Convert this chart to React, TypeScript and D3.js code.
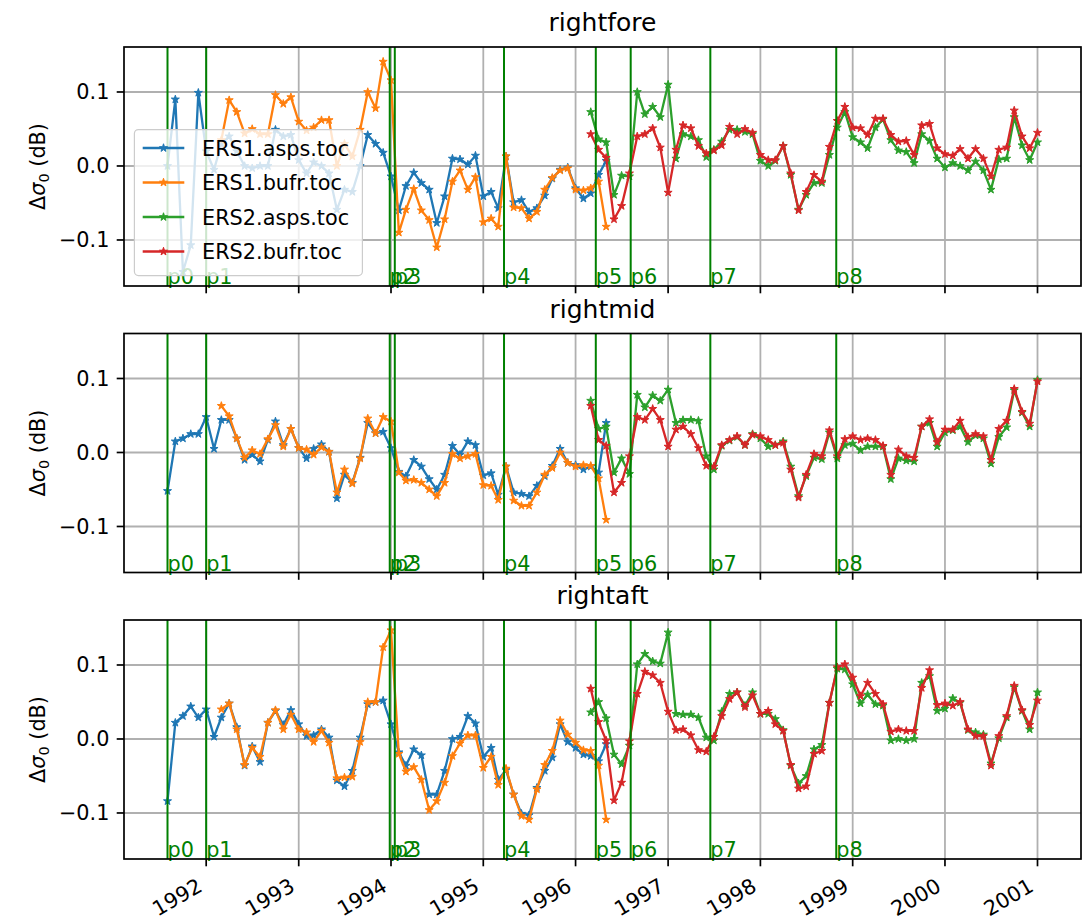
import React from 'react';
import * as d3 from 'd3';

const PANEL_TITLES = ['rightfore', 'rightmid', 'rightaft'];
const SERIES_NAMES = ['ERS1.asps.toc', 'ERS1.bufr.toc', 'ERS2.asps.toc', 'ERS2.bufr.toc'];
const SERIES_COLORS = ['#1f77b4', '#ff7f0e', '#2ca02c', '#d62728'];
const SERIES_START = ['1991-08-01', '1992-03-01', '1996-03-01', '1996-03-01'];
const YEAR_TICKS = [1992, 1993, 1994, 1995, 1996, 1997, 1998, 1999, 2000, 2001];
const Y_TICKS = [-0.1, 0.0, 0.1];
const EVENT_NAMES = ['p0', 'p1', 'p2', 'p3', 'p4', 'p5', 'p6', 'p7', 'p8'];
const EVENT_DATES = ['1991-08-01', '1992-01-01', '1993-12-27', '1994-01-16', '1995-03-24', '1996-03-21', '1996-08-06', '1997-06-17', '1998-10-28'];
const X_FIRST = '1991-08-01';
const X_LAST = '2001-01-01';

// rightfore
const foreErs1Asps = [0.0, 0.090, -0.143, -0.107, 0.099, 0.02, -0.005, 0.03, 0.04, 0.02, 0.0, -0.003, 0.0, 0.0, 0.049, 0.040, 0.042, 0.008, -0.01, 0.005, 0.0, -0.01, -0.059, -0.032, -0.035, 0.0, 0.042, 0.030, 0.018, -0.014, -0.060, -0.027, -0.009, -0.023, -0.032, -0.077, -0.041, 0.010, 0.009, 0.002, 0.014, -0.041, -0.035, -0.057, 0.013, -0.049, -0.046, -0.062, -0.057, -0.040, -0.017, -0.005, -0.002, -0.030, -0.044, -0.037, -0.012, 0.007];
const foreErs1Bufr = [0.035, 0.089, 0.073, 0.044, 0.050, 0.043, 0.043, 0.096, 0.084, 0.093, 0.060, 0.048, 0.052, 0.062, 0.062, 0.0, 0.030, 0.013, 0.049, 0.100, 0.078, 0.141, 0.116, -0.090, -0.059, -0.031, -0.060, -0.073, -0.110, -0.072, -0.021, -0.006, -0.032, -0.015, -0.076, -0.071, -0.082, 0.013, -0.056, -0.057, -0.071, -0.062, -0.032, -0.016, -0.006, -0.003, -0.032, -0.033, -0.030, -0.021, -0.082];
const foreErs2Asps = [0.073, 0.036, 0.032, -0.039, -0.013, -0.014, 0.100, 0.070, 0.080, 0.066, 0.110, 0.010, 0.043, 0.040, 0.035, 0.012, 0.022, 0.033, 0.049, 0.049, 0.046, 0.043, 0.007, 0.0, 0.007, 0.027, -0.012, -0.059, -0.039, -0.023, -0.023, 0.015, 0.052, 0.073, 0.039, 0.032, 0.024, 0.052, 0.063, 0.035, 0.021, 0.019, 0.004, 0.043, 0.034, 0.010, -0.002, 0.004, 0.0, -0.006, 0.006, -0.006, -0.032, 0.009, 0.010, 0.066, 0.028, 0.008, 0.032];
const foreErs2Bufr = [0.043, 0.022, 0.011, -0.072, -0.054, -0.010, 0.040, 0.043, 0.051, 0.025, -0.036, 0.022, 0.055, 0.051, 0.027, 0.017, 0.021, 0.028, 0.053, 0.043, 0.050, 0.045, 0.015, 0.008, 0.008, 0.027, -0.010, -0.060, -0.035, -0.012, -0.021, 0.026, 0.061, 0.080, 0.052, 0.051, 0.042, 0.064, 0.064, 0.042, 0.033, 0.034, 0.015, 0.055, 0.057, 0.024, 0.016, 0.014, 0.023, 0.010, 0.023, 0.010, -0.014, 0.022, 0.025, 0.075, 0.040, 0.024, 0.045];

// rightmid
const midErs1Asps = [-0.052, 0.015, 0.019, 0.025, 0.025, 0.048, 0.005, 0.044, 0.044, 0.019, -0.010, -0.003, -0.012, 0.017, 0.042, 0.010, 0.032, 0.006, -0.008, 0.005, 0.011, 0.001, -0.062, -0.030, -0.041, -0.007, 0.040, 0.026, 0.028, 0.006, -0.026, -0.032, -0.010, -0.019, -0.036, -0.050, -0.030, 0.009, -0.003, 0.015, 0.010, -0.031, -0.028, -0.057, -0.019, -0.054, -0.056, -0.059, -0.045, -0.032, -0.018, 0.005, -0.014, -0.017, -0.023, -0.019, -0.027, 0.040];
const midErs1Bufr = [0.063, 0.049, 0.019, -0.007, 0.003, -0.002, 0.018, 0.037, 0.008, 0.032, 0.006, 0.004, -0.003, 0.007, 0.001, -0.054, -0.023, -0.042, -0.008, 0.046, 0.026, 0.048, 0.042, -0.027, -0.038, -0.037, -0.041, -0.050, -0.059, -0.041, -0.002, -0.008, -0.005, -0.002, -0.044, -0.045, -0.064, -0.019, -0.065, -0.072, -0.072, -0.054, -0.030, -0.021, 0.0, -0.014, -0.019, -0.017, -0.018, -0.035, -0.091];
const midErs2Asps = [0.070, 0.032, 0.035, -0.027, -0.008, -0.029, 0.078, 0.061, 0.077, 0.070, 0.085, 0.040, 0.044, 0.044, 0.043, -0.005, -0.023, 0.009, 0.016, 0.021, 0.010, 0.025, 0.019, 0.008, 0.010, 0.015, -0.019, -0.059, -0.032, -0.007, -0.009, 0.027, -0.008, 0.010, 0.012, 0.003, 0.008, 0.008, 0.008, -0.036, -0.008, -0.011, -0.012, 0.035, 0.040, 0.008, 0.027, 0.030, 0.035, 0.014, 0.023, 0.019, -0.015, 0.021, 0.034, 0.084, 0.054, 0.035, 0.098];
const midErs2Bufr = [0.063, 0.017, 0.009, -0.054, -0.041, -0.005, 0.048, 0.044, 0.059, 0.044, 0.008, 0.031, 0.035, 0.025, 0.006, -0.018, -0.019, 0.010, 0.017, 0.022, 0.010, 0.024, 0.022, 0.017, 0.010, 0.013, -0.023, -0.061, -0.030, -0.002, -0.005, 0.030, -0.005, 0.018, 0.022, 0.017, 0.019, 0.017, 0.009, -0.030, 0.004, -0.005, -0.007, 0.035, 0.045, 0.014, 0.031, 0.031, 0.043, 0.021, 0.025, 0.022, -0.010, 0.032, 0.043, 0.086, 0.055, 0.039, 0.096];

// rightaft
const aftErs1Asps = [-0.084, 0.022, 0.031, 0.044, 0.029, 0.040, 0.003, 0.029, 0.048, 0.016, -0.036, -0.010, -0.031, 0.022, 0.038, 0.019, 0.039, 0.020, 0.004, 0.005, 0.013, 0.002, -0.056, -0.064, -0.043, 0.002, 0.047, 0.050, 0.052, 0.020, -0.018, -0.036, -0.014, -0.022, -0.075, -0.075, -0.043, 0.0, 0.003, 0.031, 0.021, -0.024, -0.012, -0.055, -0.042, -0.075, -0.101, -0.103, -0.066, -0.043, -0.025, 0.020, -0.004, -0.012, -0.021, -0.023, -0.030, -0.007];
const aftErs1Bufr = [0.040, 0.048, 0.013, -0.035, -0.012, -0.024, 0.022, 0.039, 0.013, 0.033, 0.013, 0.009, -0.004, 0.011, -0.005, -0.053, -0.052, -0.051, -0.004, 0.050, 0.050, 0.124, 0.147, -0.020, -0.044, -0.038, -0.055, -0.096, -0.084, -0.059, -0.023, -0.006, 0.005, 0.005, -0.039, -0.024, -0.062, -0.040, -0.075, -0.104, -0.109, -0.068, -0.035, -0.016, 0.025, 0.006, -0.005, -0.015, -0.016, -0.036, -0.109];
const aftErs2Asps = [0.036, 0.050, 0.028, -0.021, -0.034, -0.009, 0.101, 0.115, 0.105, 0.102, 0.144, 0.034, 0.033, 0.033, 0.029, 0.002, -0.002, 0.037, 0.061, 0.063, 0.045, 0.063, 0.034, 0.034, 0.027, 0.012, -0.036, -0.060, -0.050, -0.014, -0.008, 0.049, 0.095, 0.094, 0.074, 0.048, 0.060, 0.047, 0.045, -0.002, 0.0, -0.002, 0.0, 0.076, 0.085, 0.038, 0.041, 0.055, 0.049, 0.012, 0.009, 0.006, -0.033, 0.001, 0.029, 0.070, 0.038, 0.013, 0.063];
const aftErs2Bufr = [0.068, 0.023, -0.002, -0.083, -0.059, -0.003, 0.061, 0.091, 0.086, 0.076, 0.037, 0.012, 0.013, 0.005, -0.015, -0.017, 0.003, 0.031, 0.054, 0.063, 0.043, 0.059, 0.034, 0.038, 0.020, 0.011, -0.035, -0.067, -0.064, -0.020, -0.016, 0.049, 0.097, 0.101, 0.083, 0.058, 0.076, 0.061, 0.047, 0.010, 0.013, 0.011, 0.011, 0.069, 0.093, 0.046, 0.048, 0.045, 0.050, 0.013, 0.004, 0.004, -0.036, 0.004, 0.031, 0.072, 0.039, 0.019, 0.052];

const PANEL_DATA = [
  [foreErs1Asps, foreErs1Bufr, foreErs2Asps, foreErs2Bufr],
  [midErs1Asps, midErs1Bufr, midErs2Asps, midErs2Bufr],
  [aftErs1Asps, aftErs1Bufr, aftErs2Asps, aftErs2Bufr],
];

const W = 1088;
const H = 923;
const AX_LEFT = 124;
const AX_RIGHT = 1081;
const AX_H = 239;
const PANEL_TOPS = [47, 333.5, 620];
const FONT = "'DejaVu Sans', sans-serif";
const FS = 20.8;
const TICK = 7.3;
const EVENT_GREEN = '#008000';

export default function App() {
  const parse = d3.utcParse('%Y-%m-%d');
  const first = parse(X_FIRST)!;
  const last = parse(X_LAST)!;
  const span = +last - +first;
  const x = d3
    .scaleUtc()
    .domain([new Date(+first - 0.05 * span), new Date(+last + 0.05 * span)])
    .range([AX_LEFT, AX_RIGHT]);

  const starPath = d3.symbol(d3.symbolStar, 20)() as string;
  const legendStar = d3.symbol(d3.symbolStar, 20)() as string;

  const seriesPoints = (vals: number[], start: string) => {
    const d0 = parse(start)!;
    return vals.map((v, i) => [d3.utcMonth.offset(d0, i), v] as [Date, number]);
  };

  const yearDates = YEAR_TICKS.map((yr) => new Date(Date.UTC(yr, 0, 1)));
  const eventDates = EVENT_DATES.map((s) => parse(s)!);

  return (
    <svg
      width={W}
      height={H}
      viewBox={`0 0 ${W} ${H}`}
      style={{ position: 'absolute', left: 0, top: 0, background: '#fff' }}
      fontFamily={FONT}
    >
      <rect x={0} y={0} width={W} height={H} fill="#fff" />
      {PANEL_TITLES.map((title, pi) => {
        const top = PANEL_TOPS[pi];
        const bottom = top + AX_H;
        const y = d3.scaleLinear().domain([-0.1622, 0.1608]).range([bottom, top]);
        const line = d3
          .line<[Date, number]>()
          .x((d) => x(d[0]))
          .y((d) => y(d[1]));
        const clipId = `clip${pi}`;
        return (
          <g key={title}>
            <defs>
              <clipPath id={clipId}>
                <rect x={AX_LEFT} y={top} width={AX_RIGHT - AX_LEFT} height={AX_H} />
              </clipPath>
            </defs>
            {yearDates.map((d, i) => (
              <line key={'gx' + i} x1={x(d)} x2={x(d)} y1={top} y2={bottom} stroke="#b0b0b0" strokeWidth={1.8} />
            ))}
            {Y_TICKS.map((t, i) => (
              <line key={'gy' + i} x1={AX_LEFT} x2={AX_RIGHT} y1={y(t)} y2={y(t)} stroke="#b0b0b0" strokeWidth={1.8} />
            ))}
            <g clipPath={`url(#${clipId})`}>
              {PANEL_DATA[pi].map((vals, si) => {
                const pts = seriesPoints(vals, SERIES_START[si]);
                return (
                  <g key={'s' + si}>
                    <path d={line(pts) as string} fill="none" stroke={SERIES_COLORS[si]} strokeWidth={2.3} strokeLinejoin="round" />
                    {pts.map((p, k) => (
                      <path
                        key={k}
                        d={starPath}
                        transform={`translate(${x(p[0])},${y(p[1])})`}
                        fill={SERIES_COLORS[si]}
                        stroke={SERIES_COLORS[si]}
                        strokeWidth={1}
                      />
                    ))}
                  </g>
                );
              })}
              {eventDates.map((d, i) => (
                <line key={'ev' + i} x1={x(d)} x2={x(d)} y1={top} y2={bottom} stroke={EVENT_GREEN} strokeWidth={2} />
              ))}
            </g>
            {eventDates.map((d, i) => (
              <text key={'evt' + i} x={x(d)} y={y(-0.16)} fill={EVENT_GREEN} fontSize={FS}>
                {EVENT_NAMES[i]}
              </text>
            ))}
            <rect x={AX_LEFT} y={top} width={AX_RIGHT - AX_LEFT} height={AX_H} fill="none" stroke="#000" strokeWidth={1.7} />
            {Y_TICKS.map((t, i) => (
              <g key={'yt' + i}>
                <line x1={AX_LEFT - TICK} x2={AX_LEFT} y1={y(t)} y2={y(t)} stroke="#000" strokeWidth={1.7} />
                <text x={AX_LEFT - TICK - 7.3} y={y(t)} dy="0.36em" textAnchor="end" fontSize={FS} fill="#000">
                  {d3.format('.1f')(t).replace('-', '\u2212')}
                </text>
              </g>
            ))}
            {yearDates.map((d, i) => (
              <line key={'xt' + i} x1={x(d)} x2={x(d)} y1={bottom} y2={bottom + TICK} stroke="#000" strokeWidth={1.7} />
            ))}
            {pi === 2 &&
              yearDates.map((d, i) => (
                <text
                  key={'xl' + i}
                  transform={`translate(${x(d)},${bottom + 35.5}) rotate(-30)`}
                  x={0}
                  y={-5}
                  textAnchor="end"
                  fontSize={FS}
                  fill="#000"
                >
                  {YEAR_TICKS[i]}
                </text>
              ))}
            <text x={(AX_LEFT + AX_RIGHT) / 2} y={top - 16} textAnchor="middle" fontSize={25} fill="#000">
              {title}
            </text>
            <text transform={`translate(45,${top + AX_H / 2}) rotate(-90)`} textAnchor="middle" fontSize={FS} fill="#000">
              {'\u0394'}
              <tspan fontStyle="italic">{'\u03c3'}</tspan>
              <tspan fontSize={14.5} dy={4}>0</tspan>
              <tspan dy={-4}>{' (dB)'}</tspan>
            </text>
            {pi === 0 && (
              <g>
                <rect x={134.4} y={129.6} width={228} height={146} rx={4} fill="#fff" fillOpacity={0.8} stroke="#cccccc" strokeWidth={1.2} />
                {SERIES_NAMES.map((name, li) => {
                  const cy = 148 + li * 34.5;
                  return (
                    <g key={name}>
                      <line x1={142.7} x2={184.3} y1={cy} y2={cy} stroke={SERIES_COLORS[li]} strokeWidth={2.3} />
                      <path d={legendStar} transform={`translate(163.5,${cy})`} fill={SERIES_COLORS[li]} stroke={SERIES_COLORS[li]} strokeWidth={1} />
                      <text x={202} y={cy + 7.5} fontSize={FS} fill="#000">
                        {name}
                      </text>
                    </g>
                  );
                })}
              </g>
            )}
          </g>
        );
      })}
    </svg>
  );
}
